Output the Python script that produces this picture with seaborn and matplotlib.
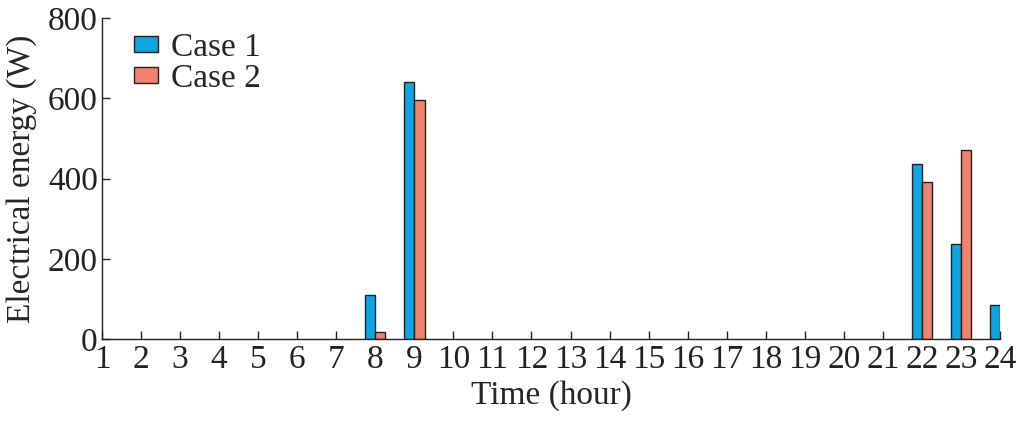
import pandas as pd
import matplotlib
matplotlib.use('Agg')
import matplotlib.pyplot as plt
import seaborn as sns

# Datos
horas = [8, 9, 22, 23, 24]
caso1 = [110, 642, 437, 237, 84]
caso2 = [17, 595, 392, 472, 0]

df = pd.DataFrame({
    'hora': horas * 2,
    'energia': caso1 + caso2,
    'caso': ['Case 1'] * len(horas) + ['Case 2'] * len(horas),
})

sns.set_style('ticks')
plt.rcParams['font.family'] = ['Liberation Serif', 'DejaVu Serif']
plt.rcParams['xtick.direction'] = 'in'
plt.rcParams['ytick.direction'] = 'in'

fig = plt.figure(figsize=(10.17, 4.22), dpi=100)
ax = fig.add_axes([0.1003, 0.1967, 0.8830, 0.7603])

sns.barplot(data=df, x='hora', y='energia', hue='caso', native_scale=True,
            width=0.52, palette=['#0EA5E4', '#F0826E'], edgecolor='#222222',
            linewidth=1.0, saturation=1, ax=ax)

ax.set_xlim(1, 24)
ax.set_ylim(0, 800)
ax.set_xticks(range(1, 25))
ax.set_yticks([0, 200, 400, 600, 800])
ax.tick_params(labelsize=24, length=6, width=1, colors='#222222',
               labelcolor='#222222', pad=3)
ax.tick_params(axis='x', pad=4)
ax.set_xlabel('Time (hour)', fontsize=24, labelpad=4)
ax.set_ylabel('Electrical energy (W)', fontsize=24, labelpad=8)
sns.despine(ax=ax)
for s in ['left', 'bottom']:
    ax.spines[s].set_linewidth(1.0)
    ax.spines[s].set_color('#222222')

ax.legend(loc='upper left', bbox_to_anchor=(0.036, 0.955), frameon=False,
          fontsize=24, handlelength=0.7, handleheight=0.35,
          handletextpad=0.4, labelspacing=0.0, borderaxespad=0, borderpad=0)

fig.savefig('out.png', dpi=100)
